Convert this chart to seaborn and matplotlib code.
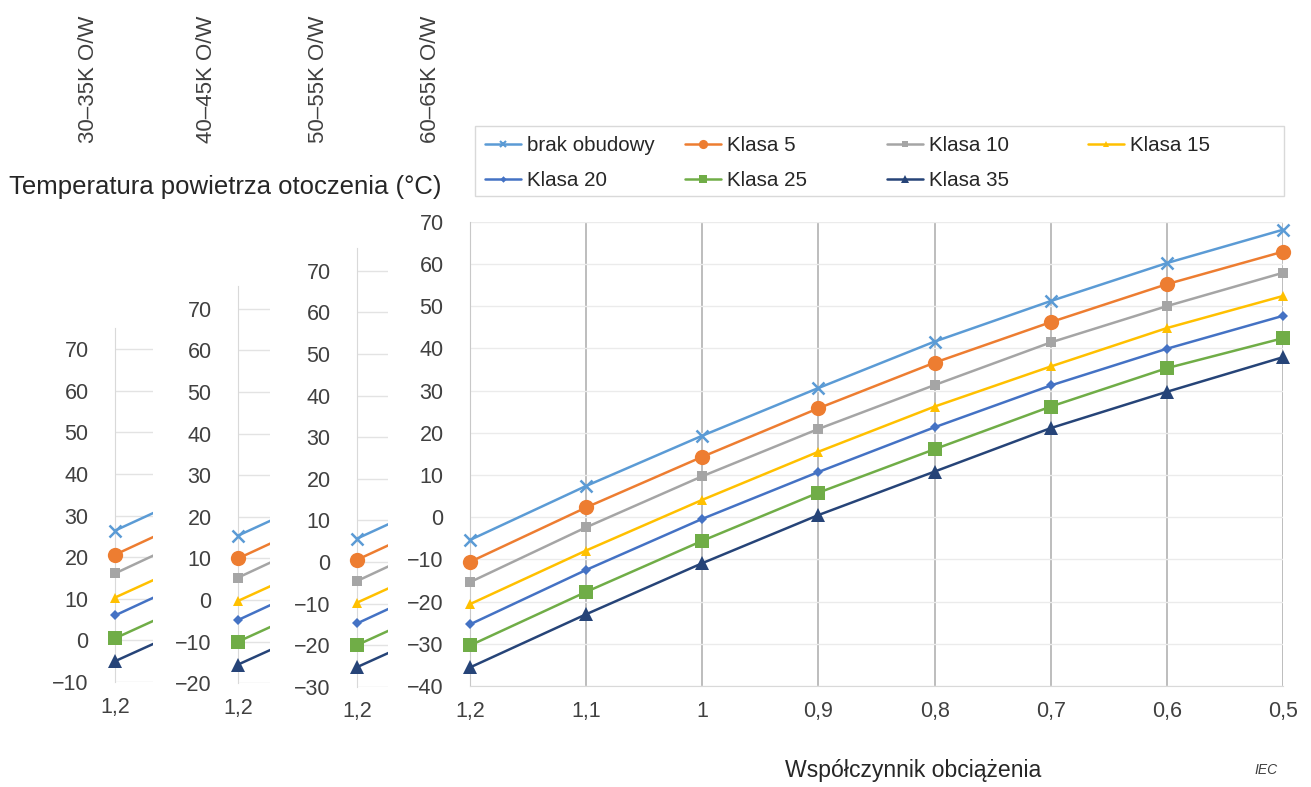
import numpy as np
import pandas as pd
import seaborn as sns
import matplotlib.pyplot as plt
from matplotlib.lines import Line2D
from matplotlib.patches import Rectangle

# load factor values on the main chart (reversed axis)
load_factor = [1.2, 1.1, 1.0, 0.9, 0.8, 0.7, 0.6, 0.5]
load_labels = ["1,2", "1,1", "1", "0,9", "0,8", "0,7", "0,6", "0,5"]

series_names = ["brak obudowy", "Klasa 5", "Klasa 10", "Klasa 15",
                "Klasa 20", "Klasa 25", "Klasa 35"]

# 60-65K O/W panel (main chart)
brak = [-5.4, 7.4, 19.3, 30.6, 41.6, 51.2, 60.2, 68.1]
klasa_5 = [-10.6, 2.3, 14.3, 25.8, 36.6, 46.2, 55.2, 62.9]
klasa_10 = [-15.4, -2.4, 9.7, 20.9, 31.3, 41.4, 50.0, 57.9]
klasa_15 = [-20.6, -7.9, 4.1, 15.5, 26.2, 35.7, 44.8, 52.4]
klasa_20 = [-25.4, -12.5, -0.4, 10.7, 21.3, 31.2, 39.9, 47.7]
klasa_25 = [-30.4, -17.7, -5.6, 5.8, 16.1, 26.2, 35.3, 42.4]
klasa_35 = [-35.6, -23.0, -10.9, 0.5, 10.8, 21.1, 29.7, 37.9]
main_values = [brak, klasa_5, klasa_10, klasa_15, klasa_20, klasa_25, klasa_35]

# small panels: only the start of the curves is visible (values at 1,2 and 1,1)
small_x = [1.2, 1.1]
p30_at_12 = [26.4, 20.6, 16.1, 10.3, 6.0, 0.5, -5.0]
p30_at_11 = [39.2, 33.5, 29.1, 23.0, 18.9, 13.2, 7.6]
p40_at_12 = [15.5, 10.0, 5.4, -0.2, -4.8, -10.0, -15.5]
p40_at_11 = [28.3, 22.9, 18.4, 12.5, 8.1, 2.7, -2.9]
p50_at_12 = [5.6, 0.5, -4.6, -9.8, -14.8, -20.0, -25.3]
p50_at_11 = [18.4, 13.4, 8.4, 2.9, -1.9, -7.3, -12.7]

panel_titles = ["30–35K O/W", "40–45K O/W", "50–55K O/W", "60–65K O/W"]

colors = ["#5B9BD5", "#ED7D31", "#A5A5A5", "#FFC000", "#4472C4", "#70AD47", "#264478"]
markers = ["x", "o", "s", "^", "D", "s", "^"]
msizes = [8, 11, 6.5, 7.5, 5.5, 10, 10]

W, H = 1311, 787
sns.set_style("white")
plt.rcParams["font.family"] = ["Liberation Sans", "DejaVu Sans"]

fig = plt.figure(figsize=(W / 100, H / 100), dpi=100)


def fx(px):
    return px / W


def fy(px):
    return 1 - px / H


tick_col = "#404040"

# ---- main chart
ax = fig.add_axes([fx(470), fy(686), fx(1283) - fx(470), fy(221.7) - fy(686)])
for vals, c, m, ms in zip(main_values, colors, markers, msizes):
    df = pd.DataFrame({"x": load_factor, "y": vals})
    sns.lineplot(data=df, x="x", y="y", ax=ax, color=c, marker=m, markersize=ms,
                 markeredgecolor=c, markeredgewidth=1.8 if m == "x" else 0,
                 linewidth=1.8, clip_on=False, sort=False, zorder=3)
ax.set_xlim(1.2, 0.5)
ax.set_ylim(-40, 70)
ax.set_xticks(load_factor)
ax.set_xticklabels(load_labels)
ax.set_yticks(np.arange(-40, 71, 10))
ax.set_xlabel("")
ax.set_ylabel("")
ax.grid(axis="y", color="#EBEBEB", lw=1)
ax.grid(axis="x", color="#BDBDBD", lw=1.4)
for s in ["top", "right"]:
    ax.spines[s].set_visible(False)
ax.spines["left"].set_color("#C8C8C8")
ax.spines["bottom"].set_color("#D9D9D9")
ax.tick_params(axis="y", length=0, pad=19, labelsize=15.5, labelcolor=tick_col)
ax.tick_params(axis="x", length=0, pad=10.5, labelsize=15.5, labelcolor=tick_col)

# ---- small panels
small_specs = [
    (115, 153, 682, -10, 75, p30_at_12, p30_at_11),
    (238, 270, 683.3, -20, 75.5, p40_at_12, p40_at_11),
    (357, 388, 686.7, -30, 75.5, p50_at_12, p50_at_11),
]
px_per_unit = 4.16
for left, right, bottom, ymin, ymax, v12, v11 in small_specs:
    top = bottom - (ymax - ymin) * px_per_unit
    sax = fig.add_axes([fx(left), fy(bottom), fx(right) - fx(left), fy(top) - fy(bottom)])
    for i in range(len(series_names)):
        sns.lineplot(x=small_x, y=[v12[i], v11[i]], ax=sax, color=colors[i],
                     linewidth=1.8, sort=False, zorder=3)
        sax.plot([small_x[0]], [v12[i]], marker=markers[i], markersize=msizes[i],
                 color=colors[i], markeredgecolor=colors[i],
                 markeredgewidth=1.8 if markers[i] == "x" else 0,
                 clip_on=False, zorder=4)
    span = (right - left) / 116 * 0.1
    sax.set_xlim(1.2, 1.2 - span)
    sax.set_ylim(ymin, ymax)
    sax.set_xticks([1.2])
    sax.set_xticklabels(["1,2"])
    sax.set_yticks(np.arange(ymin, 71, 10))
    sax.grid(axis="y", color="#E3E3E3", lw=1)
    sax.grid(axis="x", visible=False)
    for s in ["top", "right", "bottom"]:
        sax.spines[s].set_visible(False)
    sax.spines["left"].set_color("#D9D9D9")
    sax.tick_params(axis="y", length=0, pad=19, labelsize=15.5, labelcolor=tick_col)
    sax.tick_params(axis="x", length=0, pad=10.5, labelsize=15.5, labelcolor=tick_col)

# ---- legend (four columns, row-major like the original)
legend_cols = [[0, 4], [1, 5], [2, 6], [3]]
col_x = [485, 685, 887, 1088]
for idxs, x0 in zip(legend_cols, col_x):
    handles = [Line2D([], [], color=colors[i], marker=markers[i],
                      markersize=msizes[i] * 0.6, markeredgecolor=colors[i],
                      markeredgewidth=1.5 if markers[i] == "x" else 0, lw=1.8)
               for i in idxs]
    leg = fig.legend(handles=handles, labels=[series_names[i] for i in idxs],
                     loc="upper left", bbox_to_anchor=(fx(x0), fy(136)),
                     frameon=False, borderpad=0, borderaxespad=0,
                     handlelength=1.75, handletextpad=0.3, labelspacing=0.8,
                     fontsize=14.8)
    for t in leg.get_texts():
        t.set_color("#262626")
fig.add_artist(Rectangle((fx(475), fy(196)), fx(1284) - fx(475), fy(126) - fy(196),
                         transform=fig.transFigure, fill=False,
                         edgecolor="#D9D9D9", lw=1))

# ---- texts
for title, xc in zip(panel_titles, [88, 206, 318, 431]):
    fig.text(fx(xc), fy(79), title, rotation=90, ha="center", va="center",
             fontsize=16, color="#404040")
fig.text(fx(225), fy(187), "Temperatura powietrza otoczenia (°C)", ha="center",
         va="center", fontsize=18.5, color="#262626")
fig.text(fx(913), fy(770), "Współczynnik obciążenia", ha="center", va="center",
         fontsize=16.6, color="#262626")
fig.text(fx(1266), fy(770), "IEC", ha="center", va="center", fontsize=10,
         style="italic", color="#404040")

fig.savefig("out.png", dpi=100)
